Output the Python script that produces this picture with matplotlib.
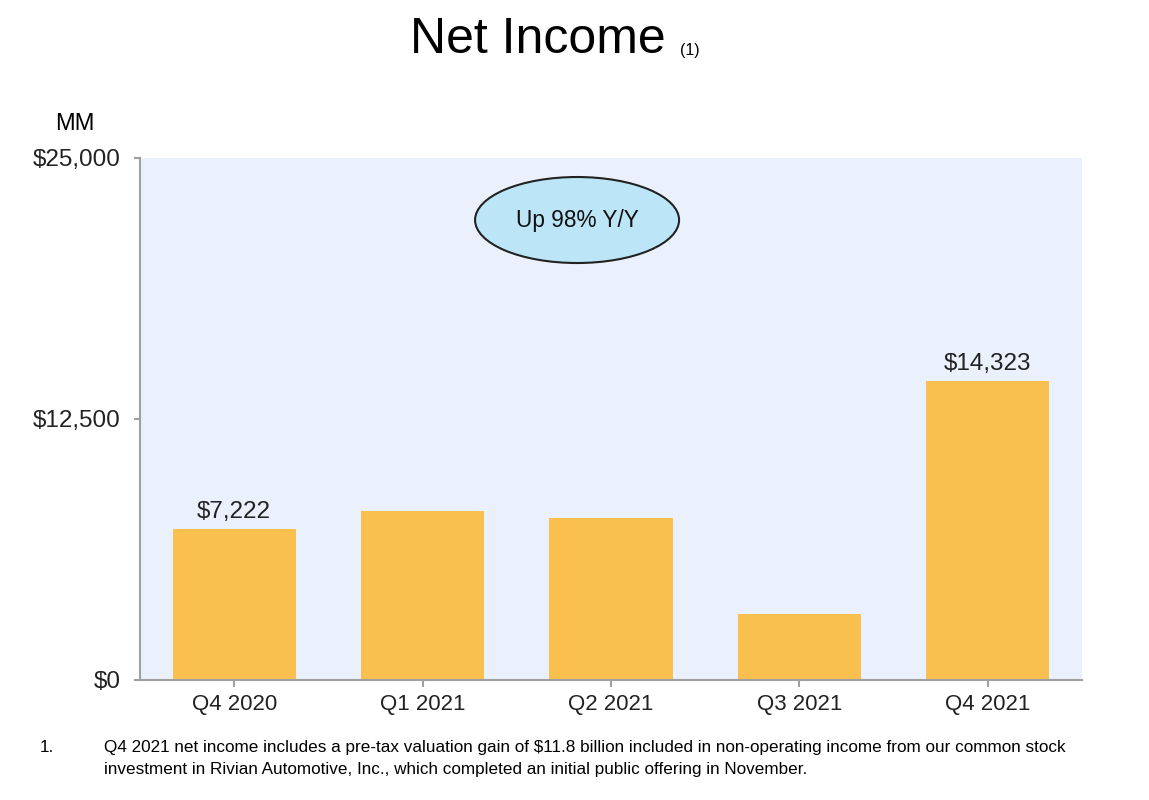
import matplotlib
matplotlib.use("Agg")
import matplotlib.pyplot as plt
from matplotlib.patches import Ellipse

plt.rcParams['font.family'] = ['Liberation Sans', 'DejaVu Sans']

categories = ["Q4 2020", "Q1 2021", "Q2 2021", "Q3 2021", "Q4 2021"]
values = [7222, 8107, 7778, 3156, 14323]
labeled = {0: "$7,222", 4: "$14,323"}
yticks = [0, 12500, 25000]
ytick_labels = ["$0", "$12,500", "$25,000"]

fig = plt.figure(figsize=(11.49, 8), dpi=100)
ax = fig.add_axes([140/1149, 120/800, 942/1149, 522/800])
ax.set_facecolor("#EAF1FC")

x = list(range(len(categories)))
ax.bar(x, values, width=0.653, color="#F9C050", edgecolor="none")
ax.set_xlim(-0.5, 4.5)
ax.set_ylim(0, 25000)

for i, lab in labeled.items():
    ax.text(i, values[i] + 280, lab, ha="center", va="bottom", fontsize=17.5, color="#222222")

ax.set_yticks(yticks)
ax.set_yticklabels(ytick_labels, fontsize=17.5, color="#222222")
ax.set_xticks(x)
ax.set_xticklabels(categories, fontsize=16, color="#222222")

for s in ["top", "right"]:
    ax.spines[s].set_visible(False)
for s in ["left", "bottom"]:
    ax.spines[s].set_color("#A0A0A0")
    ax.spines[s].set_linewidth(1.5)
ax.tick_params(axis="y", length=4, width=1.5, color="#A0A0A0", pad=10)
ax.tick_params(axis="x", length=5, width=1.5, color="#A0A0A0", pad=5)

ell = Ellipse((1.82, 22030), width=204/188.4, height=86/20.88*1000,
              facecolor="#BDE5F8", edgecolor="#222222", linewidth=1.5, zorder=5)
ax.add_patch(ell)
ax.text(1.82, 22030, "Up 98% Y/Y", ha="center", va="center", fontsize=16.3, zorder=6, color="#111111")

fig.text(410/1149, 1 - 40/800, "Net Income", fontsize=36, ha="left", va="center")
fig.text(680/1149, 1 - 50/800, "(1)", fontsize=11.5, ha="left", va="center")
fig.text(55/1149, 1 - 124/800, "MM", fontsize=17, ha="left", va="center")

fig.text(40/1149, 1 - 752/800, "1.", fontsize=12.3, ha="left", va="baseline")
fig.text(104/1149, 1 - 752/800,
         "Q4 2021 net income includes a pre-tax valuation gain of $11.8 billion included in non-operating income from our common stock",
         fontsize=12.3, ha="left", va="baseline")
fig.text(104/1149, 1 - 774/800,
         "investment in Rivian Automotive, Inc., which completed an initial public offering in November.",
         fontsize=12.3, ha="left", va="baseline")

fig.savefig("out.png", dpi=100, facecolor="white")
